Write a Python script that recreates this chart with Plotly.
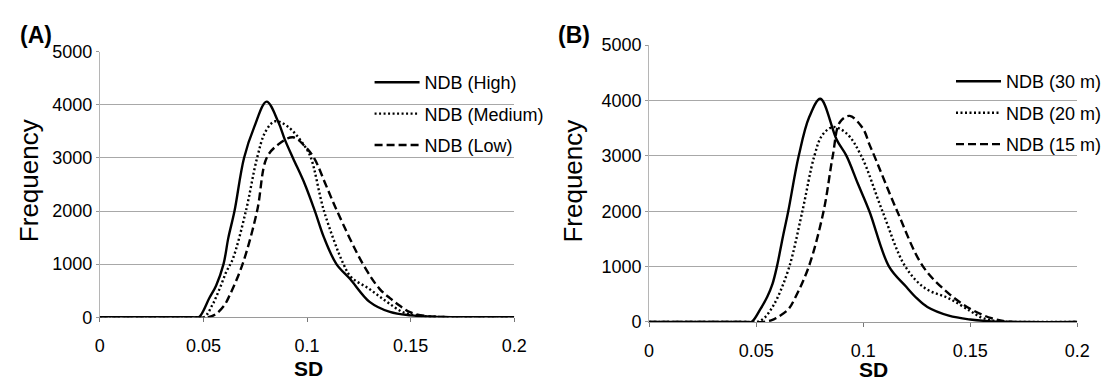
import plotly.graph_objects as go

# ---------------- data ----------------
# Panel A
high_x = [0, 0.045, 0.0478, 0.0528, 0.0561, 0.0597, 0.062, 0.065, 0.0696, 0.0745, 0.0805,
          0.0862, 0.0893, 0.0932, 0.0988, 0.1038, 0.1082, 0.1142, 0.1208, 0.1302, 0.14,
          0.15, 0.16, 0.18, 0.2]
high_y = [0, 0, 0, 357, 595, 1000, 1490, 2000, 3000, 3580, 4060,
          3670, 3345, 3000, 2520, 2000, 1500, 1000, 720, 290, 100,
          35, 12, 0, 0]

med_x = [0, 0.045, 0.0503, 0.0544, 0.0578, 0.0611, 0.0642, 0.0705, 0.0759, 0.08, 0.0846,
         0.0909, 0.0988, 0.1019, 0.1082, 0.1176, 0.1214, 0.1298, 0.1382, 0.1466, 0.155,
         0.165, 0.18, 0.2]
med_y = [0, 0, 0, 238, 536, 860, 1100, 2000, 3000, 3500, 3690,
         3585, 3227, 3000, 2000, 1000, 750, 540, 300, 90, 25,
         5, 0, 0]

low_x = [0, 0.045, 0.0523, 0.056, 0.06, 0.0625, 0.0689, 0.0759, 0.0805, 0.086, 0.0932,
         0.0988, 0.1035, 0.109, 0.1145, 0.127, 0.135, 0.14, 0.145, 0.15, 0.157,
         0.165, 0.18, 0.2]
low_y = [0, 0, 0, 60, 220, 400, 1000, 2000, 3000, 3250, 3390,
         3227, 2990, 2500, 2000, 1000, 535, 360, 210, 90, 25,
         5, 0, 0]

# Panel B
m30_x = [0, 0.045, 0.0478, 0.0519, 0.0552, 0.0576, 0.0597, 0.0625, 0.065, 0.0699, 0.0748,
         0.08, 0.0876, 0.0922, 0.0975, 0.1029, 0.1121, 0.12, 0.125, 0.13, 0.14,
         0.15, 0.16, 0.175, 0.2]
m30_y = [0, 0, 0, 228, 456, 683, 1000, 1540, 2000, 3000, 3700,
         4030, 3293, 3000, 2500, 2000, 1000, 640, 430, 270, 114,
         45, 12, 0, 0]

m20_x = [0, 0.045, 0.0505, 0.054, 0.057, 0.06, 0.0655, 0.0716, 0.0772, 0.081, 0.086,
         0.0922, 0.0991, 0.109, 0.1197, 0.1289, 0.14, 0.15, 0.155, 0.16, 0.165,
         0.18, 0.2]
m20_y = [0, 0, 0, 80, 230, 440, 1000, 2000, 3000, 3380, 3520,
         3407, 3000, 2000, 1000, 611, 427, 200, 85, 30, 8,
         0, 0]

m15_x = [0, 0.045, 0.053, 0.057, 0.06, 0.065, 0.068, 0.0746, 0.0815, 0.0858, 0.0891,
         0.0937, 0.0999, 0.1029, 0.1052, 0.1159, 0.128, 0.14, 0.15, 0.16, 0.17,
         0.2]
m15_y = [0, 0, 0, 30, 85, 228, 420, 1000, 2000, 3000, 3607,
         3721, 3493, 3207, 3000, 2000, 1000, 513, 240, 68, 0,
         0]

names_a = ["NDB (High)", "NDB (Medium)", "NDB (Low)"]
names_b = ["NDB (30 m)", "NDB (20 m)", "NDB (15 m)"]
x_ticks = [0, 0.05, 0.1, 0.15, 0.2]
x_ticktext = ["0", "0.05", "0.1", "0.15", "0.2"]
y_ticks = [0, 1000, 2000, 3000, 4000, 5000]

# ---------------- figure ----------------
W, H = 1107, 387
FONT = "Liberation Sans, Arial, sans-serif"
dashes = ["solid", "2px,2.5px", "8px,4px"]

fig = go.Figure()
series_a = [(high_x, high_y), (med_x, med_y), (low_x, low_y)]
series_b = [(m30_x, m30_y), (m20_x, m20_y), (m15_x, m15_y)]
for i, (xs, ys) in enumerate(series_a):
    fig.add_trace(go.Scatter(x=xs, y=ys, mode="lines", name=names_a[i],
                             line=dict(color="black", width=2.4, dash=dashes[i],
                                       shape="spline", smoothing=1.0),
                             xaxis="x", yaxis="y", legend="legend",
                             legendgroup="a%d" % i))
for i, (xs, ys) in enumerate(series_b):
    fig.add_trace(go.Scatter(x=xs, y=ys, mode="lines", name=names_b[i],
                             line=dict(color="black", width=2.4, dash=dashes[i],
                                       shape="spline", smoothing=1.0),
                             xaxis="x2", yaxis="y2", legend="legend2",
                             legendgroup="b%d" % i))

def xax(dom, anchor):
    return dict(domain=dom, anchor=anchor, range=[0, 0.2], tickvals=x_ticks,
                ticktext=x_ticktext, showgrid=False, zeroline=False,
                showline=True, linecolor="#9a9a9a", linewidth=1,
                ticks="outside", ticklen=4, tickcolor="#777", tickwidth=1,
                ticklabelstandoff=8, layer="below traces",
                tickfont=dict(family=FONT, size=18, color="black"))

def yax(dom, anchor):
    return dict(domain=dom, anchor=anchor, range=[0, 5000], tickvals=y_ticks,
                showgrid=True, gridcolor="#a8a8a8", gridwidth=1, zeroline=False,
                showline=True, linecolor="#b5b5b5", linewidth=1,
                ticks="outside", ticklen=3, tickcolor="#999", tickwidth=1,
                layer="below traces",
                tickfont=dict(family=FONT, size=18, color="black"))

leg_common = dict(bgcolor="rgba(0,0,0,0)", borderwidth=0, itemwidth=45,
                  tracegroupgap=5, traceorder="grouped",
                  font=dict(family=FONT, size=18, color="black"),
                  xanchor="left", yanchor="top")

fig.update_layout(
    width=W, height=H,
    margin=dict(l=0, r=0, t=0, b=0),
    paper_bgcolor="white", plot_bgcolor="white",
    font=dict(family=FONT, color="black"),
    xaxis=xax([97 / W, 521 / W], "y"),
    yaxis=yax([1 - 324 / H, 1 - 44 / H], "x"),
    xaxis2=xax([659 / W, 1097 / W], "y2"),
    yaxis2=yax([1 - 329 / H, 1 - 37 / H], "x2"),
    legend=dict(x=373 / W, y=1 - 57 / H, **leg_common),
    legend2=dict(x=968 / W, y=1 - 56 / H, **leg_common),
    showlegend=True,
)

ann = [
    dict(text="<b>(A)</b>", x=32 / W, y=1 - 26 / H, font=dict(size=23)),
    dict(text="<b>(B)</b>", x=582 / W, y=1 - 26 / H, font=dict(size=23)),
    dict(text="Frequency", x=24 / W, y=1 - 180 / H, font=dict(size=26), textangle=-90),
    dict(text="Frequency", x=581 / W, y=1 - 180 / H, font=dict(size=26), textangle=-90),
    dict(text="<b>SD</b>", x=311 / W, y=1 - 378 / H, font=dict(size=21)),
    dict(text="<b>SD</b>", x=889 / W, y=1 - 379 / H, font=dict(size=21)),
]
for a in ann:
    a.update(xref="paper", yref="paper", showarrow=False,
             xanchor="center", yanchor="middle")
    a["font"].update(family=FONT, color="black")
fig.update_layout(annotations=ann)

fig.write_html("out.html")
